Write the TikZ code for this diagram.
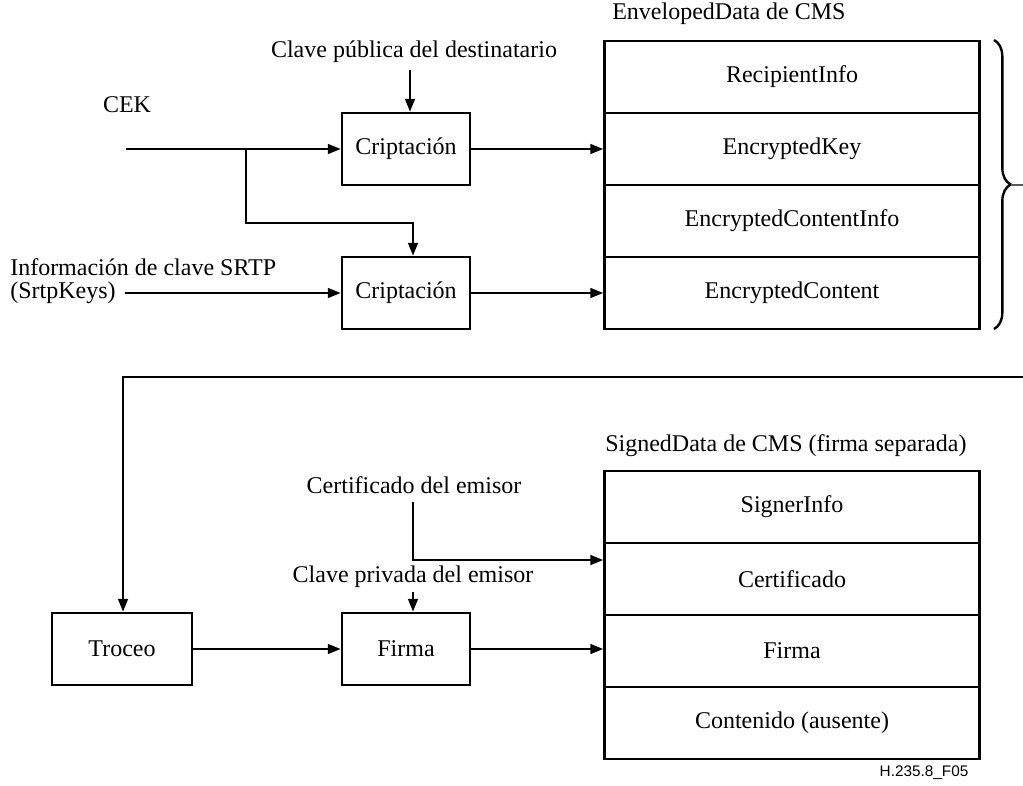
\documentclass[tikz,border=0pt]{standalone}
\usepackage{fontspec}
\setmainfont{Liberation Serif}
\newfontfamily\labsans{Liberation Sans}
\usetikzlibrary{arrows.meta,decorations.pathreplacing}
\begin{document}
\begin{tikzpicture}[x=0.75pt,y=-0.75pt,
  every node/.style={font=\fontsize{18}{21.6}\selectfont, inner sep=0pt},
  box/.style={draw, line width=2.2pt, minimum width=96pt, minimum height=54pt},
  row/.style={draw, line width=2.2pt, minimum width=281.25pt, minimum height=54pt},
  arr/.style={line width=1pt, -{Triangle[length=9.5pt,width=7.5pt]}}]
\useasboundingbox (0,0) rectangle (1023,785);

% ---------- top section ----------
\node (envtitle) [anchor=west] at (612,14) {EnvelopedData de CMS};
\node[row] (r1) at (792,77) {RecipientInfo};
\node[row] (r2) at (792,149) {EncryptedKey};
\node[row] (r3) at (792,221) {EncryptedContentInfo};
\node[row] (r4) at (792,293) {EncryptedContent};

\node[box] (c1) at (406,149) {Criptación};
\node[box] (c2) at (406,293) {Criptación};

\node (pub) at (414,52) {Clave pública del destinatario};
\node (cek) at (127,105) {CEK};
\node (info) [anchor=west] at (10,267) {Información de clave SRTP};
\node (srtp) [anchor=west] at (10,293) {(SrtpKeys)};

\coordinate (pubend) at (410,70);
\coordinate (cekstart) at (126,149);
\coordinate (j1) at (246,149);
\coordinate (j2) at (413,223);
\coordinate (srtpend) at (125,293);

\draw[arr] (pubend) -- (pubend |- c1.north);
\draw[arr] (cekstart) -- (c1.west);
\draw[arr] (j1) |- (j2) -- (j2 |- c2.north);
\draw[arr] (srtpend) -- (c2.west);
\draw[arr] (c1.east) -- (r2.west);
\draw[arr] (c2.east) -- (r4.west);

% brace
\coordinate (bt) at (994,40);
\coordinate (bb) at (994,329);
\draw[line width=1.8pt, decorate, decoration={brace, amplitude=12.5pt}] (bt) -- (bb);
\coordinate (btip) at (1011,185);
\coordinate (bout) at (1023,185);
\draw[line width=0.8pt, gray!70!black] (btip) -- (bout);

% ---------- bottom section ----------
\coordinate (fb1) at (1023,377);
\coordinate (fb2) at (123,377);

\node[box, minimum width=105pt] (troceo) at (122,649) {Troceo};
\node[box] (firma) at (406,649) {Firma};

\node (sigtitle) [anchor=west] at (605,446) {SignedData de CMS (firma separada)};
\node[row] (s1) at (792,507) {SignerInfo};
\node[row] (s2) at (792,579) {Certificado};
\node[row] (s3) at (792,651) {Firma};
\node[row] (s4) at (792,723) {Contenido (ausente)};

\node (cert) at (414,485) {Certificado del emisor};
\node (priv) at (413,577) {Clave privada del emisor};

\coordinate (certstart) at (413,502);
\coordinate (certbend) at (413,560);
\coordinate (privend) at (413,592);

\draw[arr] (fb1) -- (fb2) -- (fb2 |- troceo.north);
\draw[arr] (certstart) -- (certbend) -- (certbend -| s1.west);
\draw[arr] (privend) -- (privend |- firma.north);
\draw[arr] (troceo.east) -- (firma.west);
\draw[arr] (firma.east) -- (firma.east -| s3.west);

\node (code) [font=\labsans\fontsize{11.5}{14}\selectfont] at (924,773) {H.235.8\_F05};
\end{tikzpicture}
\end{document}
